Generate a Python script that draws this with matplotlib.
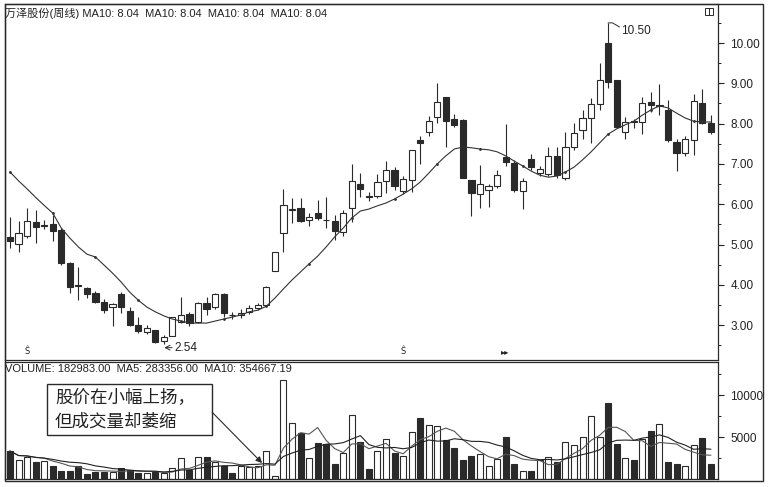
import numpy as np
import pandas as pd
import matplotlib
matplotlib.use('Agg')
import matplotlib.pyplot as plt
from matplotlib.patches import Rectangle

# weekly bars (price in yuan, volume in hands/100)
opens = [5.19, 5.01, 5.21, 5.57, 5.45, 5.51, 5.36, 4.53, 4.00, 3.93,
         3.79, 3.58, 3.46, 3.77, 3.36, 3.00, 2.82, 2.88, 2.60, 2.74,
         3.08, 3.27, 3.07, 3.54, 3.44, 3.77, 3.26, 3.24, 3.33, 3.42,
         3.50, 4.34, 5.28, 5.86, 5.91, 5.61, 5.77, 5.62, 5.59, 5.32,
         5.90, 6.50, 6.21, 6.20, 6.58, 6.85, 6.34, 6.60, 7.59, 7.78,
         8.17, 8.67, 8.11, 8.09, 6.60, 6.25, 6.35, 6.44, 7.18, 7.02,
         6.34, 7.12, 6.77, 6.75, 7.19, 6.65, 7.43, 7.84, 8.13, 8.49,
         9.99, 9.08, 7.80, 8.06, 8.05, 8.54, 8.43, 8.34, 7.55, 7.26,
         7.59, 8.50, 8.02]
highs = [5.69, 5.59, 5.90, 5.86, 5.62, 5.73, 5.40, 4.57, 4.45, 3.95,
         3.85, 3.66, 3.54, 3.83, 3.46, 3.19, 3.00, 2.89, 2.75, 3.20,
         3.70, 3.33, 3.58, 3.70, 3.80, 3.80, 3.33, 3.40, 3.50, 3.56,
         3.97, 4.81, 6.37, 6.15, 6.15, 5.79, 6.10, 6.17, 5.73, 5.85,
         7.00, 6.77, 6.30, 6.75, 7.07, 6.93, 6.70, 7.35, 7.69, 8.20,
         9.00, 8.67, 8.23, 8.12, 6.60, 6.97, 6.50, 6.85, 8.00, 7.10,
         6.65, 7.25, 6.95, 7.43, 7.43, 7.80, 8.01, 8.35, 8.63, 9.50,
         10.50, 9.08, 8.17, 8.12, 8.65, 8.78, 8.99, 8.59, 7.63, 7.70,
         8.73, 8.85, 8.22]
lows = [4.91, 4.82, 5.16, 5.04, 5.38, 5.09, 4.49, 3.79, 3.62, 3.67,
        3.56, 3.29, 2.98, 3.30, 2.98, 2.81, 2.77, 2.56, 2.54, 2.72,
        3.06, 2.98, 3.04, 3.26, 3.40, 3.20, 3.14, 3.18, 3.28, 3.38,
        3.48, 4.34, 4.82, 5.53, 5.57, 5.45, 5.60, 5.40, 5.11, 5.20,
        5.57, 6.17, 6.07, 6.15, 6.27, 6.35, 6.25, 6.30, 6.99, 7.70,
        8.01, 7.43, 7.92, 6.64, 5.71, 5.90, 5.92, 6.40, 6.95, 6.30,
        5.87, 6.85, 6.70, 6.70, 6.65, 6.60, 7.35, 7.62, 7.51, 8.35,
        8.88, 7.90, 7.63, 7.90, 7.75, 8.30, 8.22, 7.54, 6.83, 7.20,
        7.21, 7.98, 7.75]
closes = [5.09, 5.29, 5.59, 5.43, 5.48, 5.34, 4.53, 3.94, 3.98, 3.77,
          3.58, 3.37, 3.52, 3.46, 3.00, 2.85, 2.92, 2.59, 2.70, 3.19,
          3.24, 3.04, 3.56, 3.39, 3.77, 3.29, 3.24, 3.31, 3.42, 3.50,
          3.95, 4.81, 5.98, 5.88, 5.59, 5.69, 5.65, 5.60, 5.33, 5.79,
          6.58, 6.37, 6.19, 6.56, 6.85, 6.46, 6.62, 7.35, 7.51, 8.07,
          8.53, 8.07, 7.97, 6.64, 6.29, 6.50, 6.44, 6.72, 7.05, 6.35,
          6.58, 6.92, 6.87, 7.19, 6.72, 7.43, 7.77, 8.13, 8.49, 9.08,
          9.04, 7.92, 8.05, 8.03, 8.50, 8.46, 8.45, 7.59, 7.26, 7.61,
          8.55, 8.01, 7.80]
ma10 = [6.80, 6.58, 6.38, 6.17, 5.97, 5.78, 5.41, 5.16, 4.94, 4.76,
        4.69, 4.49, 4.29, 4.07, 3.82, 3.62, 3.45, 3.33, 3.23, 3.15,
        3.10, 3.05, 3.05, 3.05, 3.10, 3.15, 3.20, 3.25, 3.33, 3.37,
        3.47, 3.67, 3.90, 4.12, 4.32, 4.52, 4.71, 4.94, 5.19, 5.41,
        5.66, 5.83, 5.88, 5.96, 6.03, 6.13, 6.25, 6.38, 6.55, 6.77,
        7.00, 7.20, 7.37, 7.42, 7.40, 7.37, 7.35, 7.30, 7.20, 7.07,
        6.95, 6.82, 6.72, 6.67, 6.70, 6.80, 6.92, 7.10, 7.30, 7.52,
        7.74, 7.87, 7.97, 8.06, 8.21, 8.34, 8.44, 8.39, 8.26, 8.14,
        8.06, 8.04, 8.04]
volume = [3330, 2260, 2650, 2060, 2140, 1550, 990, 990, 1550, 560,
          870, 870, 870, 1270, 1070, 670, 670, 870, 670, 1270,
          2460, 1070, 2650, 2580, 2060, 1550, 670, 1550, 1390, 1550,
          3300, 400, 11800, 6630, 5440, 2460, 4300, 4130, 1750, 3100,
          7620, 4400, 1150, 3350, 4720, 3060, 2740, 5630, 7300, 6430,
          6310, 4640, 3730, 2260, 2700, 3020, 1600, 2420, 5040, 1830,
          910, 1000, 2220, 2560, 2060, 4370, 4050, 5040, 7500, 5040,
          9080, 4130, 2500, 2260, 4760, 5710, 6510, 2060, 1800, 1570,
          4050, 4920, 1830]

price_ticks = [3, 4, 5, 6, 7, 8, 9, 10]
vol_ticks = [5000, 10000]
title = '万泽股份(周线) MA10: 8.04  MA10: 8.04  MA10: 8.04  MA10: 8.04'
vol_title = 'VOLUME: 182983.00  MA5: 283356.00  MA10: 354667.19'
note = '股价在小幅上扬，\n但成交量却萎缩'

FONT = ['Liberation Sans', 'Noto Sans CJK SC', 'DejaVu Sans']
plt.rcParams['font.family'] = FONT
DARK = '#2a2a2a'
W, H = 771, 487

df = pd.DataFrame({'open': opens, 'high': highs, 'low': lows,
                   'close': closes, 'ma10': ma10, 'vol': volume})
df['vma5'] = df['vol'].rolling(5, min_periods=1).mean()
df['vma10'] = df['vol'].rolling(10, min_periods=1).mean()
x = np.arange(len(df))
up = (df['close'] >= df['open']).values


def fx(px):
    return px / W


def fy(py):
    return 1 - py / H


fig = plt.figure(figsize=(W / 100, H / 100), dpi=100)
ax = fig.add_axes([fx(5), fy(360), fx(713), 356 / H])
axv = fig.add_axes([fx(5), fy(479), fx(713), 117 / H])

# ---- price panel
ax.vlines(x, df['low'], df['high'], color=DARK, lw=0.8, zorder=1)
body_lo = np.minimum(df['open'], df['close'])
body_h = np.maximum(np.abs(df['close'] - df['open']), 0.02)
ax.bar(x, body_h, bottom=body_lo, width=0.72,
       color=np.where(up, 'white', DARK), edgecolor=DARK, lw=0.8, zorder=2)
ax.plot(x, df['ma10'], color='#333333', lw=0.8, zorder=3,
        marker='o', ms=1.0, markevery=(0, 5))

pk = int(np.argmax(df['high']))
ax.plot([pk, pk + 0.5, pk + 1.3],
        [df['high'][pk], df['high'][pk], df['high'][pk] - 0.1],
        color=DARK, lw=0.7)
ax.text(pk + 1.5, df['high'][pk] - 0.19, '10.50', fontsize=8.5,
        va='center', ha='left', color='#222222')
lo = int(np.argmin(df['low']))
ax.annotate('2.54', xy=(lo + 0.05, df['low'][lo] - 0.1),
            xytext=(lo + 1.3, df['low'][lo] - 0.1), fontsize=8.5,
            va='center', ha='left', color='#222222',
            arrowprops=dict(arrowstyle='->', lw=0.7, color=DARK,
                            shrinkA=0, shrinkB=0))

for i, s in [(2, 'Ŝ'), (46, 'Ŝ'), (58, '▸▸')]:
    ax.text(i, 0.012, s, transform=ax.get_xaxis_transform(), fontsize=6,
            ha='center', va='bottom', color='#222222',
            family=['DejaVu Sans'])

ax.set_xlim(-0.585, 82.85)
ax.set_ylim(2.134, 10.968)
ax.set_yticks(price_ticks)
ax.set_yticks(np.arange(2.5, 11, 0.5), minor=True)
ax.set_yticklabels([f'{t:.2f}' for t in price_ticks])
ax.text(0.0, 0.99, title, transform=ax.transAxes, fontsize=8,
        va='top', ha='left', color='#222222')

# ---- volume panel
axv.bar(x, df['vol'], width=0.7, color=np.where(up, 'white', DARK),
        edgecolor=DARK, lw=0.8)
axv.plot(x, df['vma5'], color='#555555', lw=0.8)
axv.plot(x, df['vma10'], color='#222222', lw=0.8)
axv.set_xlim(-0.585, 82.85)
axv.set_ylim(0, 13930)
axv.set_yticks(vol_ticks)
axv.set_yticks(np.arange(2500, 13000, 2500), minor=True)
axv.set_yticklabels([str(t) for t in vol_ticks])
axv.text(0.0, 0.985, vol_title, transform=axv.transAxes, fontsize=8,
         va='top', ha='left', color='#222222')

fig.text(fx(55), fy(410), note, fontsize=12.6, ha='left', va='center',
         linespacing=1.4, family=['Noto Sans CJK SC'], color='#222222')
fig.add_artist(Rectangle((fx(47), fy(435)), fx(165), 51 / H,
                         transform=fig.transFigure, fill=False,
                         ec=DARK, lw=1.0))
axv.annotate('', xy=(29.5, 1900), xytext=(23.65, 7950),
             arrowprops=dict(arrowstyle='-|>', lw=0.8, color=DARK,
                             mutation_scale=9, shrinkA=0, shrinkB=0))

for a in (ax, axv):
    a.yaxis.tick_right()
    a.tick_params(axis='y', which='major', direction='out', length=4,
                  width=0.8, pad=5, labelsize=8.5, colors='#222222')
    a.tick_params(axis='y', which='minor', direction='out', length=2,
                  width=0.6)
    a.set_xticks([])
    for sp in a.spines.values():
        sp.set_color(DARK)
        sp.set_linewidth(0.9)

# outer frame and small icon at top right
fig.add_artist(Rectangle((fx(5), fy(481)), fx(758), 477 / H,
                         transform=fig.transFigure, fill=False,
                         ec=DARK, lw=1.0))
fig.add_artist(Rectangle((fx(705), fy(15)), fx(8), 7 / H,
                         transform=fig.transFigure, fill=False,
                         ec=DARK, lw=0.7))
fig.add_artist(plt.Line2D([fx(709), fx(709)], [fy(15), fy(8)],
                          transform=fig.transFigure, color=DARK, lw=0.7))

fig.savefig('out.png', dpi=100)
